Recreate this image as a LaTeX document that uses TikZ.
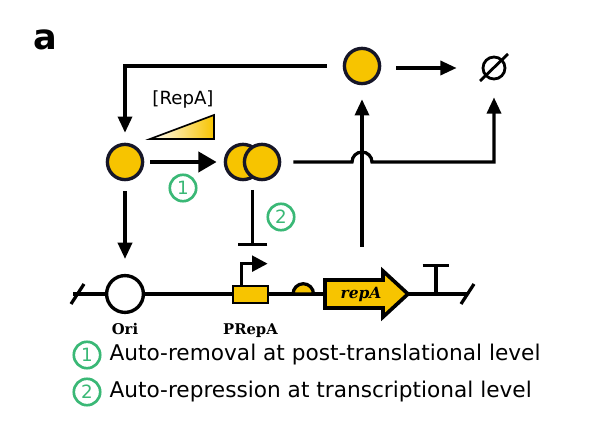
\documentclass[tikz,border=0pt]{standalone}
\usepackage{fontspec}
\setmainfont{DejaVu Sans}
\newfontfamily\slabfont{DejaVu Serif}
\usetikzlibrary{arrows.meta,positioning,calc}
\definecolor{repyellow}{RGB}{247,196,0}
\definecolor{inkblue}{RGB}{22,22,40}
\definecolor{stepgreen}{RGB}{58,184,118}

\begin{document}
\begin{tikzpicture}[
    x=0.025cm, y=-0.025cm,
    line width=2.3pt,
    every node/.style={inner sep=0pt},
    protein/.style={
        circle,
        draw=inkblue,
        fill=repyellow,
        line width=2.4pt,
        minimum size=0.88cm
    },
    origin/.style={
        circle,
        draw=black,
        fill=white,
        line width=2.4pt,
        minimum size=0.92cm
    },
    arrow/.style={-{Triangle[length=11.5pt,width=10pt]}},
    bigarrow/.style={line width=3.4pt, -{Triangle[length=13pt,width=14pt]}},
    stepnum/.style={
        circle,
        draw=stepgreen,
        line width=1.9pt,
        text=stepgreen,
        minimum size=0.66cm,
        font=\fontsize{13}{13}\selectfont
    },
    partlabel/.style={font=\slabfont\bfseries\fontsize{10.5}{11}\selectfont},
    legend/.style={font=\fontsize{15.4}{17}\selectfont, anchor=west}
]
\useasboundingbox (0,0) rectangle (599,425);

\node[font=\bfseries\fontsize{25}{25}\selectfont] (panel) at (45,40) {a};

% proteins
\node[protein] (free) at (125,162) {};
\node[protein] (dimerA) at (243,162) {};
\node[protein] (dimerB) at (262,162) {};
\node[protein] (top) at (362,66) {};
\coordinate (dimerMid) at ($(dimerA)!0.5!(dimerB)$);

% degradation
\node[circle, draw, line width=2pt, minimum size=0.55cm] (sink) at (494,68) {};
\draw[line width=2pt] ($(sink.center)+(-14,13)$) -- ($(sink.center)+(14,-14)$);

% concentration ramp
\node[font=\fontsize{12.9}{13}\selectfont] (conc) at (183,100) {[RepA]};
\draw[line width=1.2pt, left color=white, right color=repyellow, line join=miter]
    (150,139) -- (214,139) -- (214,115) -- cycle;

\draw[arrow, shorten <=0.4cm, shorten >=0.25cm] (top.west) -| (free.north);
\draw[bigarrow] ($(free.east)+(6,0)$) -- ($(dimerA.west)+(-7,0)$);
\draw[arrow, shorten >=0.25cm] (top.east) ++(15,2) -- ($(sink.west)+(-15,0)$);

\node[stepnum] (one) at (183,188) {1};
\node[stepnum] (two) at (281,217) {2};

% crossing line with hop
\coordinate (hop) at (362,162);
\draw[arrow] ($(dimerB.east)+(12,0)$) -- ($(hop)+(-10,0)$)
    arc[start angle=180, end angle=0, radius=7.1pt]
    -| ($(sink.south)+(0,17)$);

% DNA
\coordinate (dnaL) at (73,294);
\coordinate (dnaR) at (468,294);
\draw (dnaL) -- (dnaR);
\draw ($(dnaL)+(-2,10)$) -- ($(dnaL)+(11,-10)$);
\draw ($(dnaR)+(-7,10)$) -- ($(dnaR)+(6,-10)$);

\node[origin] (ori) at (125,294) {};
\node[draw, fill=repyellow, line width=1.9pt, minimum width=0.875cm, minimum height=0.425cm]
    (prom) at (250.5,294.5) {};
\draw[-{Triangle[length=11pt,width=11pt]}] ($(prom.north west)+(10,0)$) |- ++(26,-21);
\draw[fill=repyellow] (293,294) arc[start angle=180, end angle=0, radius=7.3pt] -- cycle;
\draw[fill=repyellow, line join=miter, line width=2.6pt]
    (325,280) -- (383,280) -- (383,271) -- (408,294) -- (383,317) -- (383,308) -- (325,308) -- cycle;
\node[font=\slabfont\bfseries\itshape\fontsize{11}{11}\selectfont] (gene) at (361,294) {repA};
\coordinate (term) at (436,294);
\draw[-{Bar[width=19pt]}] (term) -- ++(0,-30);

\node[partlabel, below=0.2cm of ori] (orilabel) {Ori};
\node[partlabel, below=0.45cm of prom] (promlabel) {PRepA};

% regulation
\draw[arrow] ($(free.south)+(0,10)$) -- ($(ori.north)+(0,-15)$);
\draw[-{Bar[width=21pt]}] ($(dimerMid)+(0,28)$) -- ++(0,56);
\coordinate (geneTop) at (362,247);
\draw[arrow] (geneTop) -- ($(top.south)+(0,14)$);

% legend
\node[stepnum] (leg1) at (87,355) {1};
\node[legend, right=0.16cm of leg1] (leg1text) {Auto-removal at post-translational level};
\node[stepnum] (leg2) at (87,392) {2};
\node[legend, right=0.16cm of leg2] (leg2text) {Auto-repression at transcriptional level};

\end{tikzpicture}
\end{document}
